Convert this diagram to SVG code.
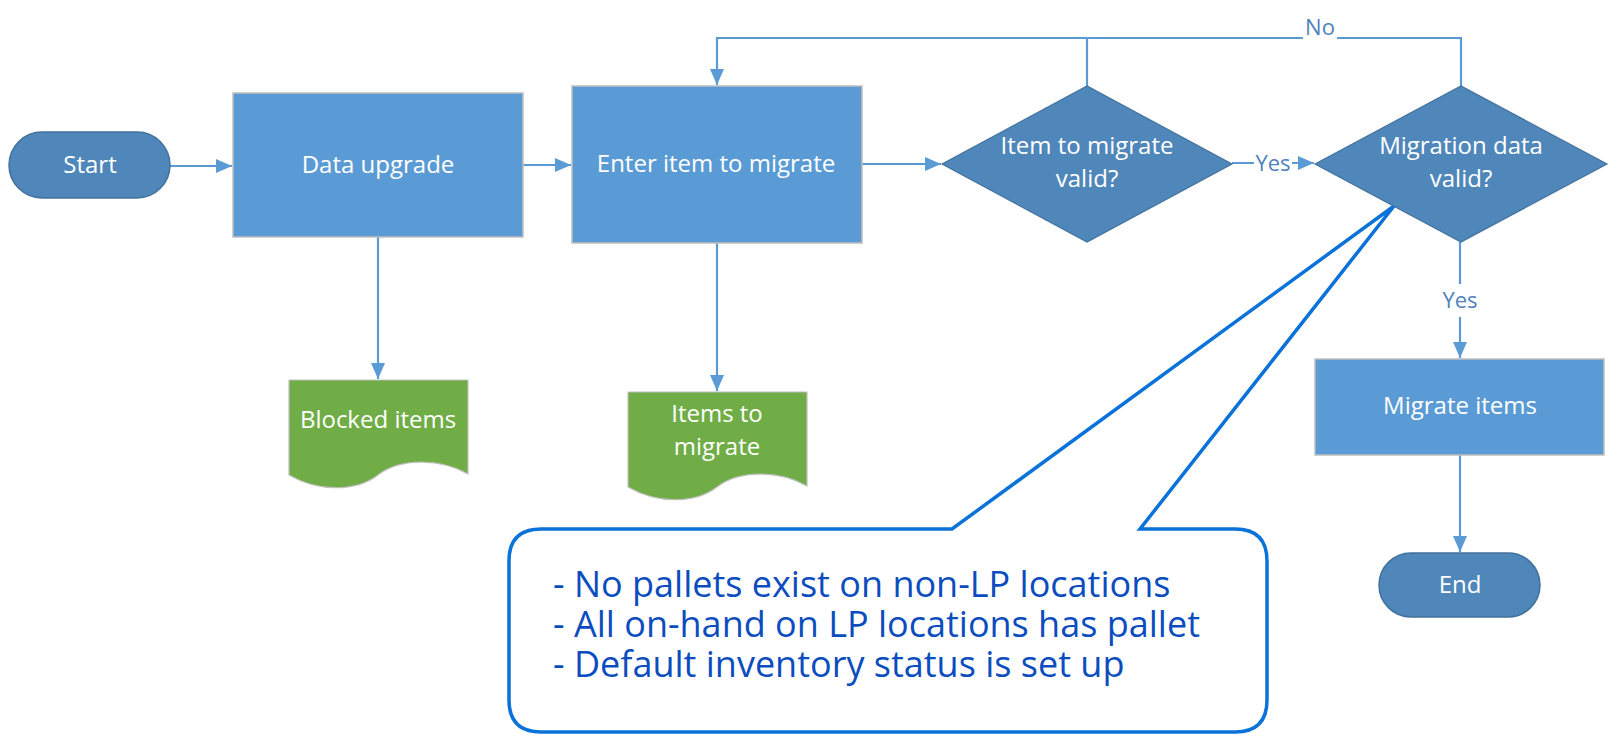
<svg xmlns="http://www.w3.org/2000/svg" width="1619" height="738" viewBox="0 0 1619 738">
<defs>
<style>
.proc{fill:#5b9bd5;stroke:#bfbfbf;stroke-width:1.5}
.dec{fill:#4f87ba;stroke:#41719c;stroke-width:1.2}
.term{fill:#4f87ba;stroke:#41719c;stroke-width:1.5}
.doc{fill:#70ad47;stroke:#c0c0c0;stroke-width:1.2}
.nt{font-family:"Open Sans","Noto Sans",sans-serif;font-size:24px;fill:#ffffff;text-anchor:middle}
.lbl{font-family:"Open Sans","Noto Sans",sans-serif;font-size:22px;fill:#4f81bd;text-anchor:middle}
.con{fill:none;stroke:#5b9bd5;stroke-width:2.2}
.bub{fill:#ffffff;stroke:#0a72d8;stroke-width:3.5;stroke-linejoin:miter}
.bt{font-family:"Open Sans","Noto Sans",sans-serif;font-size:36px;fill:#0b4dbf}
</style>
<marker id="arr" markerUnits="userSpaceOnUse" markerWidth="16" markerHeight="14" refX="16" refY="7" orient="auto">
<path d="M0,0 L16,7 L0,14 Z" fill="#5b9bd5"/>
</marker>
</defs>
<rect width="1619" height="738" fill="#ffffff"/>

<g id="connectors">
<path class="con" d="M170,166 H232" marker-end="url(#arr)"/>
<path class="con" d="M523,165 H571" marker-end="url(#arr)"/>
<path class="con" d="M862,164 H941" marker-end="url(#arr)"/>
<path class="con" d="M1232,163 H1314" marker-end="url(#arr)"/>
<path class="con" d="M378,237 V379" marker-end="url(#arr)"/>
<path class="con" d="M717,243 V391" marker-end="url(#arr)"/>
<path class="con" d="M1461,86 V38 H717 V85" marker-end="url(#arr)"/>
<path class="con" d="M1087,86 V38"/>
<path class="con" d="M1460,242 V358" marker-end="url(#arr)"/>
<path class="con" d="M1460,455 V552" marker-end="url(#arr)"/>
<rect x="1303" y="26" width="34" height="24" fill="#ffffff"/>
<text class="lbl" x="1320" y="35">No</text>
<rect x="1254" y="151" width="38" height="24" fill="#ffffff"/>
<text class="lbl" x="1273" y="171">Yes</text>
<rect x="1440" y="284" width="40" height="33" fill="#ffffff"/>
<text class="lbl" x="1460" y="308">Yes</text>
</g>

<g id="callout">
<path class="bub" d="M541,529 H952 L1394,206 L1140,529 H1235 Q1267,529 1267,561 V700 Q1267,732 1235,732 H541 Q509,732 509,700 V561 Q509,529 541,529 Z"/>
<text class="bt" x="553" y="597">- No pallets exist on non-LP locations</text>
<text class="bt" x="553" y="637">- All on-hand on LP locations has pallet</text>
<text class="bt" x="553" y="677">- Default inventory status is set up</text>
</g>

<g id="start">
<rect class="term" x="9" y="132" width="161" height="66" rx="33"/>
<text class="nt" x="90" y="173">Start</text>
</g>
<g id="data-upgrade">
<rect class="proc" x="233" y="93" width="290" height="144"/>
<text class="nt" x="378" y="173">Data upgrade</text>
</g>
<g id="enter-item">
<rect class="proc" x="572" y="86" width="290" height="157"/>
<text class="nt" x="716" y="172">Enter item to migrate</text>
</g>
<g id="item-valid">
<path class="dec" d="M942,164 L1087,86 L1232,164 L1087,242 Z"/>
<text class="nt" x="1087" y="154">Item to migrate</text>
<text class="nt" x="1087" y="187">valid?</text>
</g>
<g id="data-valid">
<path class="dec" d="M1315,164 L1461,86 L1607,164 L1461,242 Z"/>
<text class="nt" x="1461" y="154">Migration data</text>
<text class="nt" x="1461" y="187">valid?</text>
</g>
<g id="blocked-items">
<path class="doc" d="M289,380 H468 V474 C440,458 400,458 378,475 C356,492 318,492 289,475 Z"/>
<text class="nt" x="378" y="428">Blocked items</text>
</g>
<g id="items-to-migrate">
<path class="doc" d="M628,392 H807 V486 C779,470 739,470 717,487 C695,504 657,504 628,487 Z"/>
<text class="nt" x="717" y="422">Items to</text>
<text class="nt" x="717" y="455">migrate</text>
</g>
<g id="migrate-items">
<rect class="proc" x="1315" y="359" width="289" height="96"/>
<text class="nt" x="1460" y="414">Migrate items</text>
</g>
<g id="end">
<rect class="term" x="1379" y="553" width="161" height="64" rx="32"/>
<text class="nt" x="1460" y="593">End</text>
</g>
</svg>
